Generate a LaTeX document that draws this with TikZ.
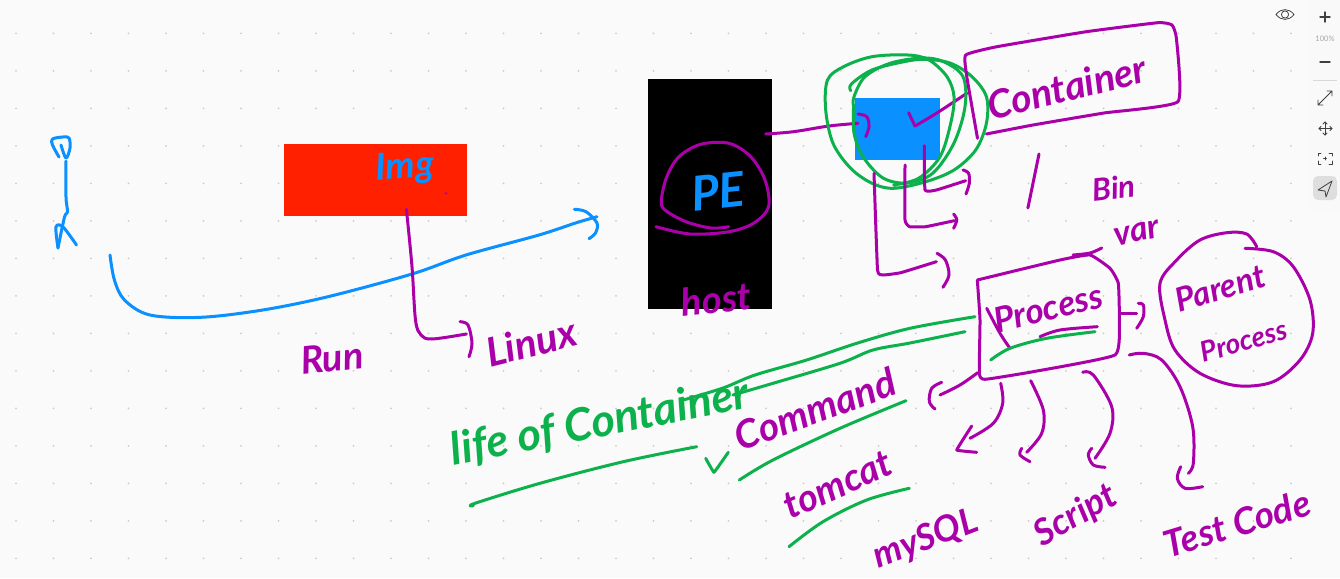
\documentclass[tikz,border=0pt]{standalone}
\usepackage{fontspec}
\setmainfont{Lato}
\usetikzlibrary{positioning}
\definecolor{boardbg}{HTML}{FAFAFA}
\definecolor{inkpurple}{HTML}{AA00AA}
\definecolor{inkgreen}{HTML}{0CB14B}
\definecolor{inkblue}{HTML}{0A90FF}
\tikzset{
    inkp/.style = {line width=3pt,inkpurple,line cap=round,line join=round,smooth,tension=0.55},
    inkg/.style = {line width=3pt,inkgreen,line cap=round,line join=round,smooth,tension=0.55},
    inkb/.style = {line width=3pt,inkblue,line cap=round,line join=round,smooth,tension=0.55},
    block/.style = {inner sep=0pt,anchor=north west,minimum width=#1},
    notep/.style = {text=inkpurple,inner sep=0pt,font=\itshape\bfseries\fontsize{#1}{#1}\selectfont},
    noteg/.style = {text=inkgreen,inner sep=0pt,font=\itshape\bfseries\fontsize{#1}{#1}\selectfont},
    noteb/.style = {text=inkblue,inner sep=0pt,font=\itshape\bfseries\fontsize{#1}{#1}\selectfont},
    toolicon/.style = {line width=0.8pt,black!75,line cap=round,line join=round},
}
\begin{document}
\begin{tikzpicture}[x=1pt,y=-1pt]
  \path[use as bounding box,fill=boardbg] (0,0) rectangle (1340,578);
  % dotted board
  \foreach \i in {0,...,34} {
    \foreach \j in {0,...,14} {
      \fill[black!20] (16+37.5*\i,33.3+37.5*\j) circle (1pt);
    }
  }
  % tool bar
  \fill[black!2.5] (1308,0) rectangle (1340,210);
  \fill[black!2] (1270,0) rectangle (1300,28);
  \draw[toolicon,line width=1.4pt] (1320,17) -- (1330,17) (1325,12) -- (1325,22);
  \node[inner sep=0pt,text=black!35,font=\fontsize{7.5}{7.5}\selectfont] (zoomval) at (1325,39) {100\%};
  \draw[toolicon,line width=1.4pt] (1320,62) -- (1330,62);
  \draw[black!15] (1313,80.5) -- (1337,80.5);
  \draw[toolicon] (1318,105) -- (1332,91) (1327,91) -- (1332,91) -- (1332,96) (1318,100) -- (1318,105) -- (1323,105);
  \draw[toolicon] (1325,122) -- (1325,135) (1319,128.5) -- (1332,128.5);
  \draw[toolicon] (1323,124) -- (1325,122) -- (1327,124) (1323,133) -- (1325,135) -- (1327,133) (1321,126.5) -- (1319,128.5) -- (1321,130.5) (1330,126.5) -- (1332,128.5) -- (1330,130.5);
  \draw[toolicon] (1318,156) -- (1318,153) -- (1321,153) (1329,153) -- (1332,153) -- (1332,156) (1332,161) -- (1332,164) -- (1329,164) (1321,164) -- (1318,164) -- (1318,161) (1323.5,158.5) -- (1326.5,158.5) (1325,157) -- (1325,160);
  \fill[black!13,rounded corners=5pt] (1313,176) rectangle (1337,200);
  \draw[toolicon] (1318,190) -- (1332,181) -- (1326,197) -- (1325,191) -- cycle;
  \draw[toolicon] (1276,14.5) .. controls (1281,8) and (1289,8) .. (1294,14.5) .. controls (1289,21) and (1281,21) .. (1276,14.5);
  \draw[toolicon] (1285,14.5) circle (3.6pt);
  % boxes
  \node[block=183pt,minimum height=72pt,fill={rgb,255:red,255;green,32;blue,0}] (img) at (284,144) {};
  \node[block=123.5pt,minimum height=230pt,fill=black] (host) at (648,79) {};
  \node[block=85pt,minimum height=62pt,fill=inkblue] (cont) at (854.3,97.7) {};
  % stick figure and run arrow
  \draw[inkb] plot coordinates {(59,157) (52.5,145) (52.5,139) (63,137) (69,138) (70,148) (66,158) (61,145)};
  \draw[inkb] plot coordinates {(66,161) (66,197) (67.5,212) (64.5,217) (58,248)};
  \draw[inkb] plot coordinates {(58,248) (56,227) (63,227) (76.5,245)};
  \draw[inkb] plot coordinates {(110,255) (114.4,280) (124.5,300) (150,315) (201,317.3) (262.7,310) (328,296.7) (412,274) (466,255) (539,235) (575.5,223) (597,216.7)};
  \draw[inkb] plot coordinates {(574.4,209.3) (586,211.7) (597,223) (595.5,233) (589,238.7)};
  % image
  \node[noteb=37,rotate=4] (imglabel) at (405,168) {Img};
  \fill[inkpurple] (446,193.3) circle (1.3pt);
  \draw[inkp] plot coordinates {(406.4,209.3) (412,266.7) (415.5,320) (421,335) (432,339) (466.4,334)};
  \draw[inkp] plot coordinates {(460,321.7) (468,325) (472,343.3) (469,356.7)};
  \node[notep=38,rotate=6] (runlabel) at (332,358) {Run};
  \node[notep=40,rotate=14] (linuxlabel) at (531,342) {Linux};
  % host
  \draw[inkp] plot coordinates {(728.6,226.7) (711,228) (686,221.7) (665,210) (661.4,200) (666.8,176.7) (679,156.7) (700.7,144.3) (729,143.3) (750.7,156.7) (765,180) (768.6,206.7) (754,223) (729,231.7) (690,234) (656,226.7)};
  \node[noteb=48,rotate=6] (pelabel) at (718,191) {PE};
  \node[notep=38,rotate=6] (hostlabel) at (716,299) {host};
  \draw[inkp] plot coordinates {(765.7,134) (793.6,131.7) (829,126) (858,123.3)};
  \draw[inkp] plot coordinates {(858,114) (866.8,116.7) (869,126.7) (865.7,136.7)};
  % container
  \draw[inkp] plot coordinates {(908.6,112.7) (915,126)};
  \draw[inkp] plot coordinates {(915,126) (936.4,113.3) (966.8,93.3)};
  \draw[inkg] plot coordinates {(850.7,90.7) (851.4,84) (872,70) (904,61.7) (925.7,59.3) (950.7,63.3) (972,76.7) (986.4,96.7) (986.4,123.3) (975.7,150) (954,170) (925.7,181.7) (893.6,188.3) (872,183.3) (850.7,168.3) (833,143.3) (825.7,110) (827.5,80) (843.6,66.7) (872,56.7) (907.9,55) (929,60) (947,76.7) (954,96.7) (950.7,123.3) (940,156.7) (918.6,178.3) (893.6,185)};
  \draw[inkg] plot coordinates {(853.6,106.7) (854,133) (863,156.7) (883,178) (908,183) (933,173) (954,143) (965,106.7) (963,76.7) (943.6,61.7) (922,58) (890,63.3) (865,76.7) (854,96.7) (853.6,106.7)};
  \draw[inkp] plot[tension=0.25] coordinates {(986.4,134) (1033,125) (1104,113) (1177.9,101.7) (1176.4,38.3) (1172,25) (1158,22.7) (1086.4,31.7) (997,46.7) (965.7,55) (966.8,76.7) (977.5,138.3)};
  \node[notep=39,rotate=14] (containerlabel) at (1067,87) {Container};
  \draw[inkp] plot[tension=0.2] coordinates {(924.3,145.7) (925,190) (936.4,190) (965.7,180.7)};
  \draw[inkp] plot coordinates {(963,170) (968.6,173.3) (969.3,183.3) (966,194)};
  \draw[inkp] plot[tension=0.2] coordinates {(905,165) (905,220) (909.6,226.7) (925.7,226.7) (954.3,220.7)};
  \draw[inkp] plot coordinates {(953.6,214) (956.8,220) (953.6,228.3)};
  \draw[inkp] plot[tension=0.2] coordinates {(874,173.3) (877.5,270) (883,275) (900.7,272.7) (936.4,261.7)};
  \draw[inkp] plot coordinates {(937,253.3) (945.4,260) (949,275) (942.9,287.3)};
  \draw[inkp] plot coordinates {(1039,154) (1027.9,208)};
  \node[notep=31,rotate=6] (binlabel) at (1114,188) {Bin};
  \node[notep=34,rotate=12] (varlabel) at (1137,233) {var};
  \draw[inkp] plot coordinates {(1073,255) (1090,253) (1101.7,248)};
  % process
  \draw[inkg] plot coordinates {(683.3,400) (723,388) (755,375) (806.7,360) (856.7,343.3) (910,328.3) (975,316.7)};
  \draw[inkg] plot coordinates {(733,395) (773,383.3) (840,363.3) (873,350) (910,343) (965,331.7)};
  \draw[inkp] plot[tension=0.25] coordinates {(977.3,280) (980,320) (979.3,373.3) (985,379.3) (1033,371.7) (1115,355) (1119.3,320) (1118.3,283.3) (1110,268.3) (1090,255) (1060,260) (977.3,280)};
  \node[notep=35,rotate=14] (processlabel) at (1048,308) {Process};
  \draw[inkp] plot coordinates {(986.7,308.3) (1000,333.3) (1010,348.3)};
  \draw[inkp] plot coordinates {(1040,336.7) (1060,330) (1097.3,326.7)};
  \draw[inkg] plot coordinates {(990.7,360) (1010,348.3) (1046.7,338.3) (1095,331.7)};
  \draw[inkp] plot coordinates {(1120,313.3) (1136.7,313.3)};
  \draw[inkp] plot coordinates {(1138.3,303.3) (1143.3,305) (1143.3,316.7) (1136.7,328.3)};
  % parent process
  \draw[inkp] plot coordinates {(1256.7,246.7) (1246.7,234) (1226.7,232.7) (1200,240) (1176.7,260) (1160,283.3) (1165,320) (1175,350) (1200,373.3) (1236.7,385.7) (1273.3,381.7) (1300,360) (1312.7,333.3) (1310,300) (1293.3,266.7) (1273.3,251.7) (1245,248.3)};
  \node[notep=33,rotate=17] (parentlabel) at (1220,288) {Parent};
  \node[notep=28,rotate=16] (parentlabelb) at (1244,341) {Process};
  % what runs in the process
  \draw[inkp] plot coordinates {(977.7,372.7) (960,385) (940,395)};
  \draw[inkp] plot coordinates {(941.7,382.3) (931.7,388.3) (929.3,401.7) (935,409)};
  \draw[inkp] plot coordinates {(1000.7,383.3) (1002.7,403.3) (993.3,423.3) (970,438.3)};
  \draw[inkp] plot[tension=0.1] coordinates {(971.7,426) (956.7,450) (976.7,452.3)};
  \draw[inkp] plot coordinates {(1030.7,380.7) (1043.3,410) (1041.7,433.3) (1026.7,452.3)};
  \draw[inkp] plot coordinates {(1021.7,448.3) (1020,455) (1030,461.7)};
  \draw[inkp] plot coordinates {(1082.7,372.3) (1093.3,375) (1111.7,406.7) (1110,433.3) (1095,458.3)};
  \draw[inkp] plot coordinates {(1091.7,448.3) (1088.3,455) (1093.3,465) (1105,467.3)};
  \draw[inkp] plot coordinates {(1129.3,355) (1143.3,353.3) (1161.7,360) (1180,386.7) (1192.7,426.7) (1193.3,463.3) (1188.3,473.3)};
  \draw[inkp] plot coordinates {(1180.7,466.7) (1177.3,478.3) (1185,488.3) (1202.7,486.7)};
  \node[notep=36,rotate=21] (mysqllabel) at (926,540) {mySQL};
  \node[notep=36,rotate=30] (scriptlabel) at (1076,516) {Script};
  \node[notep=37,rotate=17] (testlabel) at (1237,523) {Test Code};
  % life of container
  \node[noteg=45,rotate=11] (lifelabel) at (600,423) {life of Container};
  \draw[inkg] plot coordinates {(473.3,505.7) (475,503.3) (540,483.3) (623.3,461.7) (696.7,446.7)};
  \draw[inkg] plot[tension=0.1] coordinates {(705.7,458.3) (714,472.3) (728.3,452.3)};
  \node[notep=39,rotate=20] (commandlabel) at (815,409) {Command};
  \draw[inkg] plot coordinates {(739.3,480) (773,460) (840,428.3) (906,400.7)};
  \node[notep=38,rotate=24] (tomcatlabel) at (838,485) {tomcat};
  \draw[inkg] plot coordinates {(789,546.7) (823,521.7) (866.7,500) (909.3,488.3)};
\end{tikzpicture}
\end{document}
